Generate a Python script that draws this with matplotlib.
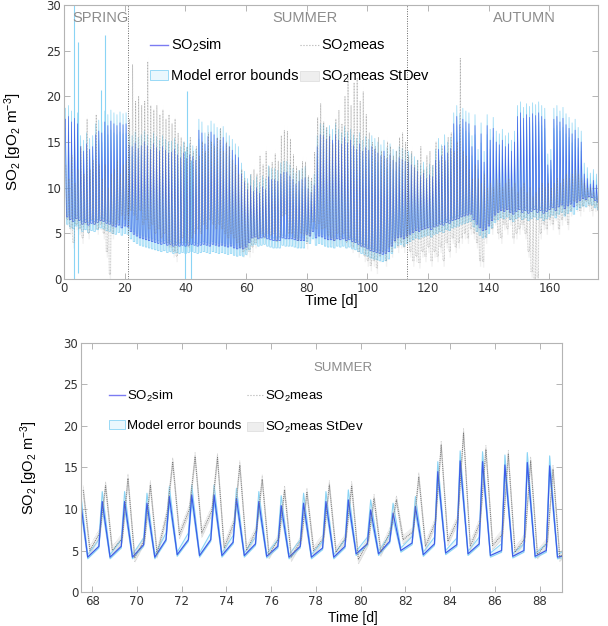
"""SO2 simulated vs measured over the season, with a zoom on days 67-89."""

import numpy as np
import matplotlib

matplotlib.use("Agg")
import matplotlib.pyplot as plt
from matplotlib.lines import Line2D
from matplotlib.patches import Patch

# ---- full season: one peak and one trough per day (days 0..175) ----
SIM_PEAK = [
    17.5, 17.8, 17.2, 17.6, 17.0, 14.5, 14.0, 14.8, 14.2, 14.5,
    15.8, 16.2, 16.0, 17.2, 16.8, 17.3, 17.0, 16.8, 17.1, 16.9,
    17.0, 14.7, 14.5, 14.9, 14.3, 14.6, 15.0, 14.6, 14.2, 14.8,
    14.4, 14.0, 14.5, 14.1, 13.8, 13.9, 14.2, 13.6, 13.3, 13.8,
    13.2, 13.6, 13.4, 13.0, 16.3, 16.0, 14.8, 15.6, 16.1, 15.8,
    15.4, 15.2, 15.5, 14.8, 14.5, 14.1, 13.6, 13.3, 11.5, 10.6,
    9.8, 10.2, 9.6, 10.0, 9.4, 10.1, 9.8, 11.2, 10.9, 10.9,
    10.7, 11.5, 11.7, 11.7, 11.3, 10.9, 10.4, 10.7, 10.9, 11.1,
    9.9, 9.5, 10.3, 14.5, 15.8, 15.7, 15.3, 15.6, 15.2, 15.8,
    15.2, 14.8, 15.5, 14.9, 15.2, 14.6, 14.2, 14.8, 14.0, 14.4,
    14.1, 14.5, 14.2, 13.8, 13.5, 14.0, 13.2, 13.6, 13.0, 12.8,
    13.3, 13.1, 12.9, 12.8, 12.5, 12.2, 11.8, 11.3, 11.6, 11.0,
    11.4, 11.2, 13.0, 14.2, 13.5, 14.6, 13.8, 14.3, 17.0, 17.8,
    16.9, 17.5, 17.2, 17.0, 14.5, 16.8, 13.0, 15.9, 12.8, 16.8,
    15.2, 16.5, 15.0, 14.7, 15.2, 14.5, 14.8, 14.0, 15.0, 17.8,
    18.2, 17.6, 18.0, 17.7, 18.1, 17.9, 18.2, 17.8, 17.5, 12.5,
    13.0, 17.5, 17.8, 17.2, 17.6, 16.9, 16.5, 15.9, 16.3, 15.4,
    15.0, 11.5, 11.0, 10.4, 10.8, 10.3,
]
SIM_LOW = [
    6.8, 6.5, 6.3, 6.6, 6.4, 6.0, 6.2, 5.9, 6.1, 6.0,
    6.2, 6.4, 6.3, 6.1, 6.0, 5.8, 5.7, 5.9, 5.6, 5.8,
    5.7, 5.2, 4.9, 4.7, 4.5, 4.4, 4.3, 4.2, 4.1, 4.0,
    3.9, 3.8, 3.9, 3.7, 3.8, 3.6, 3.7, 3.6, 3.7, 3.6,
    3.7, 3.8, 3.7, 3.6, 3.7, 3.8, 3.7, 3.6, 3.8, 3.7,
    3.6, 3.7, 3.6, 3.5, 3.6, 3.4, 3.3, 3.4, 3.3, 3.5,
    4.0, 4.5, 4.6, 4.4, 4.5, 4.6, 4.4, 4.3, 4.2, 4.2,
    4.2, 4.5, 4.4, 4.4, 4.4, 4.3, 4.2, 4.2, 4.2, 4.9,
    4.7, 5.2, 4.5, 4.7, 4.6, 4.4, 4.3, 4.3, 4.2, 4.4,
    4.3, 4.4, 4.2, 4.3, 4.1, 4.0, 3.8, 3.6, 3.5, 3.3,
    3.1, 3.0, 2.9, 2.8, 2.7, 2.8, 3.0, 3.6, 4.2, 4.5,
    4.6, 4.4, 4.7, 4.9, 5.1, 5.3, 5.2, 5.4, 5.5, 5.6,
    5.4, 5.7, 5.8, 6.0, 5.9, 6.2, 6.1, 6.4, 6.5, 6.6,
    6.8, 6.9, 7.0, 7.1, 6.5, 6.0, 5.6, 5.3, 5.4, 5.8,
    6.4, 7.0, 7.3, 7.5, 7.4, 7.6, 7.3, 7.1, 7.4, 7.6,
    7.3, 7.5, 7.2, 7.4, 7.6, 7.3, 7.5, 7.2, 7.4, 7.6,
    7.8, 7.5, 7.9, 8.1, 7.7, 8.0, 8.2, 7.9, 8.4, 8.6,
    8.8, 8.7, 9.0, 8.9, 8.6, 8.4,
]
MEAS_PEAK = [
    12.5, 11.0, 13.5, 10.5, 12.0, 14.5, 11.5, 17.5, 12.0, 13.0,
    18.0, 12.5, 11.0, 12.5, 10.0, 11.5, 12.0, 13.0, 11.5, 12.5,
    13.0, 17.5, 23.5, 19.5, 20.0, 19.0, 19.5, 23.8, 19.0, 18.5,
    19.0, 18.0, 18.5, 17.5, 18.0, 17.0, 17.5, 16.0, 15.5, 15.0,
    14.5, 15.5, 14.0, 14.5, 13.5, 15.0, 14.0, 16.0, 15.0, 14.5,
    15.5, 16.5, 14.0, 15.0, 14.5, 13.0, 12.5, 11.5, 12.0, 11.0,
    10.5, 11.5, 12.0, 11.5, 13.5, 12.5, 14.0, 12.3, 12.8, 13.7,
    12.9, 15.7, 16.3, 16.2, 15.3, 13.6, 12.3, 11.9, 12.9, 12.8,
    11.3, 11.1, 13.9, 17.7, 19.2, 17.2, 16.6, 15.8, 14.8, 17.5,
    18.5, 17.0, 20.0, 22.5, 19.0, 21.5, 22.0, 19.5, 20.5, 18.0,
    16.0, 15.0, 14.5, 15.5, 14.0, 13.5, 15.0, 14.5, 13.5, 14.0,
    15.5, 16.0, 15.0, 13.5, 14.0, 12.5, 13.0, 14.5, 12.0, 13.5,
    14.0, 12.5, 15.0, 13.0, 14.5, 13.0, 15.5, 16.0, 14.0, 15.0,
    24.2, 14.0, 13.5, 12.0, 11.0, 12.5, 11.0, 10.5, 11.5, 10.0,
    10.5, 10.0, 11.0, 10.5, 10.0, 10.5, 11.0, 10.0, 10.5, 9.5,
    10.0, 10.5, 9.5, 10.0, 9.0, 9.5, 10.0, 10.5, 10.0, 10.5,
    10.0, 10.5, 11.0, 10.5, 11.0, 11.5, 11.0, 11.5, 12.0, 11.5,
    11.0, 10.5, 10.0, 10.0, 9.5, 9.0,
]
MEAS_LOW = [
    6.5, 5.5, 4.0, 6.0, 5.5, 4.5, 6.0, 5.0, 6.5, 6.0,
    5.5, 6.0, 5.0, 3.0, 0.5, 5.0, 6.0, 6.5, 7.0, 6.5,
    7.0, 7.5, 7.0, 6.5, 7.5, 6.0, 6.5, 5.5, 6.0, 5.0,
    5.5, 4.5, 5.0, 4.0, 3.5, 3.0, 2.5, 4.0, 4.5, 4.0,
    3.5, 4.5, 5.0, 5.5, 5.0, 6.0, 5.5, 6.5, 6.0, 5.5,
    6.0, 5.5, 5.0, 4.5, 5.0, 4.5, 4.0, 3.5, 3.0, 3.2,
    3.0, 3.5, 4.0, 4.5, 5.0, 4.5, 5.0, 4.8, 5.0, 4.1,
    4.6, 6.9, 7.1, 5.0, 5.0, 4.5, 4.2, 5.0, 4.8, 3.9,
    4.8, 6.3, 5.5, 6.1, 5.5, 5.6, 4.8, 4.5, 4.2, 5.0,
    4.5, 5.0, 4.0, 4.5, 3.5, 4.0, 3.0, 3.5, 2.5, 2.0,
    1.5, 2.0, 1.2, 2.5, 3.0, 2.0, 3.5, 3.0, 4.0, 3.5,
    4.0, 3.5, 4.5, 3.0, 2.0, 2.5, 1.8, 3.0, 2.5, 3.5,
    2.0, 3.0, 2.5, 3.5, 2.0, 4.0, 3.0, 4.5, 3.5, 4.0,
    4.5, 5.0, 4.5, 5.5, 5.0, 4.0, 2.0, 1.9, 4.5, 6.0,
    5.5, 6.5, 5.0, 4.5, 6.0, 5.5, 6.5, 4.5, 5.0, 5.5,
    6.0, 5.0, 3.0, 0.8, 0.0, 0.2, 5.0, 6.0, 5.5, 6.5,
    6.0, 7.0, 5.5, 6.5, 7.0, 6.0, 7.5, 8.5, 8.0, 7.5,
    8.0, 8.5, 8.0, 7.5, 8.0, 7.5,
]
# model error around the simulation (at peak, at trough) and measurement stdev
BOUND_UP = [1.2, 0.3]
BOUND_DN = [1.0, 0.8]
MEAS_SD = 0.6
# isolated excursions of the error bounds
SPIKE_DAY = [3.3, 4.6, 12.2, 13.5, 40.0, 40.4, 42.0]
SPIKE_LO = [0.0, 0.7, 8.0, 7.0, 0.0, 5.0, 0.0]
SPIKE_HI = [30.0, 26.0, 20.7, 26.7, 14.0, 20.6, 13.0]

SEASONS = ["SPRING", "SUMMER", "AUTUMN"]
SEASON_X = [11.9, 79.3, 151.8]
SEASON_BREAKS = [21.1, 112.9]

# ---- zoom window: days 67..88, peak / trough / pre-rise value per day ----
ZOOM_DAYS = list(range(67, 89))
Z_SIM_PEAK = [11.6, 10.9, 10.9, 10.7, 11.5, 11.7, 11.7, 11.3, 10.9, 10.4, 10.7,
              10.9, 11.1, 9.9, 9.5, 10.3, 14.5, 15.8, 15.7, 15.3, 15.6, 15.2]
Z_SIM_LOW = [4.2, 4.2, 4.2, 4.2, 4.5, 4.4, 4.4, 4.4, 4.3, 4.2, 4.2,
             4.2, 4.6, 4.6, 5.0, 4.5, 4.7, 4.6, 4.4, 4.3, 4.3, 4.2]
Z_SIM_EVE = [5.5, 5.5, 5.7, 6.3, 6.3, 6.3, 6.0, 5.8, 5.5, 5.5, 5.3,
             5.5, 5.8, 6.1, 5.9, 5.8, 5.7, 5.8, 5.0, 5.0, 5.0, 4.5]
Z_MEAS_PEAK = [12.3, 12.8, 13.7, 12.9, 15.7, 16.3, 16.2, 15.3, 13.6, 12.3, 12.0,
               12.9, 12.8, 11.3, 11.1, 13.9, 17.7, 19.2, 17.2, 16.6, 15.8, 14.8]
Z_MEAS_LOW = [5.0, 5.0, 4.1, 4.6, 6.9, 7.1, 5.3, 5.0, 4.5, 4.2, 5.0,
              4.8, 3.9, 4.8, 6.3, 5.5, 6.1, 5.5, 5.6, 4.8, 4.5, 4.2]
Z_MEAS_EVE = [7.2, 6.5, 6.4, 9.5, 10.0, 9.8, 8.5, 7.5, 6.5, 6.3, 6.5,
              6.6, 6.2, 7.5, 7.3, 8.5, 8.8, 8.5, 7.0, 6.5, 6.0, 5.5]
Z_BOUND_UP = [1.2, 0.3, 0.8]
Z_BOUND_DN = [0.8, 0.2, 0.2]
Z_MEAS_SD = 0.5

SIM_COLOR = "#3d5ce8"
BOUND_COLOR = "#8ad4f5"
BOUND_FILL = "#eaf7fd"
MEAS_COLOR = "#7a7a7a"
SD_FILL = "#e4e4e4"
SEASON_COLOR = "#8c8c8c"
YLABEL = "SO$_2$ [gO$_2$ m$^{-3}$]"

plt.rcParams["font.family"] = ["Liberation Sans", "DejaVu Sans"]
plt.rcParams["mathtext.fontset"] = "custom"
plt.rcParams["mathtext.rm"] = "Liberation Sans"
plt.rcParams["mathtext.it"] = "Liberation Sans:italic"
plt.rcParams["mathtext.default"] = "regular"


def interleave(*cols):
    return np.column_stack(cols).ravel()


def style_axes(ax):
    for spine in ax.spines.values():
        spine.set_color("#b4b4b4")
        spine.set_linewidth(0.8)
    ax.tick_params(direction="in", top=True, right=True, length=4, width=0.6,
                   color="#a8a8a8", labelsize=8.5, pad=2, labelcolor="#333333")
    for label in ax.get_xticklabels() + ax.get_yticklabels():
        label.set_family(["Liberation Sans Narrow", "DejaVu Sans"])


def legend_handles():
    return [
        Line2D([], [], color="#7b7bf2", lw=1.0),
        Patch(facecolor=BOUND_FILL, edgecolor=BOUND_COLOR, lw=0.6),
        Line2D([], [], color="#b0b0b0", lw=0.8, ls=":"),
        Patch(facecolor="#eeeeee", edgecolor="#e0e0e0", lw=0.6),
    ]


LABELS = ["SO$_2$sim", "Model error bounds", "SO$_2$meas", "SO$_2$meas StDev"]

fig = plt.figure(figsize=(6.08, 6.26), dpi=100)
ax1 = fig.add_axes([0.1053, 0.5543, 0.8783, 0.4377])
ax2 = fig.add_axes([0.1332, 0.0543, 0.7911, 0.3978])

# ---------------- top panel: whole season ----------------
# each day: morning peak, fast decay to the trough, trough held until the next rise
days = np.arange(len(SIM_PEAK))
sim_peak = np.array(SIM_PEAK)
sim_low = np.array(SIM_LOW)
t_sim = interleave(days + 0.45, days + 0.8, days + 1.3)
sim = interleave(sim_peak, sim_low, sim_low)
ub = interleave(sim_peak + BOUND_UP[0], sim_low + BOUND_UP[1], sim_low + BOUND_UP[1])
lb = interleave(sim_peak - BOUND_DN[0], sim_low - BOUND_DN[1], sim_low - BOUND_DN[1])
meas_peak = np.array(MEAS_PEAK)
meas_low = np.array(MEAS_LOW)
t_meas = interleave(days + 0.6, days + 0.9, days + 1.35)
meas = interleave(meas_peak, meas_low, meas_low)

ax1.fill_between(t_sim, lb, ub, color=BOUND_FILL, lw=0)
ax1.fill_between(t_meas, meas - MEAS_SD, meas + MEAS_SD, color=SD_FILL, lw=0, alpha=0.5)
ax1.plot(t_sim, ub, color=BOUND_COLOR, lw=0.5)
ax1.plot(t_sim, lb, color=BOUND_COLOR, lw=0.5)
ax1.vlines(SPIKE_DAY, SPIKE_LO, SPIKE_HI, color=BOUND_COLOR, lw=0.8)
ax1.plot(t_sim, sim, color=SIM_COLOR, lw=0.5, alpha=0.9)
ax1.plot(t_meas, meas, color=MEAS_COLOR, lw=0.55, ls=(0, (1, 1)), alpha=0.6)
for x in SEASON_BREAKS:
    ax1.axvline(x, color="#666666", lw=0.7, ls=(0, (1, 1.5)))
for name, x in zip(SEASONS, SEASON_X):
    ax1.text(x, 28.6, name, color=SEASON_COLOR, fontsize=10.5, ha="center", va="center")

ax1.set_xlim(0, 176)
ax1.set_ylim(0, 30)
ax1.set_xticks(range(0, 161, 20))
ax1.set_yticks(range(0, 31, 5))
style_axes(ax1)
ax1.set_xlabel("Time [d]", fontsize=10.5)
ax1.set_ylabel(YLABEL, fontsize=11)
ax1.xaxis.set_label_coords(0.5, -0.055)
ax1.yaxis.set_label_coords(-0.075, 0.5)
ax1.legend(legend_handles(), LABELS, ncol=2, frameon=False, fontsize=10.5,
           loc="upper left", bbox_to_anchor=(0.247, 0.941), bbox_transform=fig.transFigure,
           borderpad=0, borderaxespad=0, handlelength=1.25, handletextpad=0.15,
           columnspacing=0.15, labelspacing=1.0)

# ---------------- bottom panel: zoom on summer days ----------------
zd = np.array(ZOOM_DAYS)
z_peak = np.array(Z_SIM_PEAK)
z_low = np.array(Z_SIM_LOW)
z_eve = np.array(Z_SIM_EVE)
tz_sim = interleave(zd + 0.45, zd + 0.8, zd + 1.3)
z_sim = interleave(z_peak, z_low, z_eve)
z_ub = interleave(z_peak + Z_BOUND_UP[0], z_low + Z_BOUND_UP[1], z_eve + Z_BOUND_UP[2])
z_lb = interleave(z_peak - Z_BOUND_DN[0], z_low - Z_BOUND_DN[1], z_eve - Z_BOUND_DN[2])
tz_meas = interleave(zd + 0.6, zd + 0.9, zd + 1.35)
z_meas = interleave(np.array(Z_MEAS_PEAK), np.array(Z_MEAS_LOW), np.array(Z_MEAS_EVE))

ax2.fill_between(tz_sim, z_lb, z_ub, color=BOUND_FILL, lw=0)
ax2.fill_between(tz_meas, z_meas - Z_MEAS_SD, z_meas + Z_MEAS_SD, color=SD_FILL, lw=0, alpha=0.7)
ax2.plot(tz_sim, z_ub, color=BOUND_COLOR, lw=0.8)
ax2.plot(tz_sim, z_lb, color=BOUND_COLOR, lw=0.8)
ax2.plot(tz_meas, z_meas + Z_MEAS_SD, color="#c8c8c8", lw=0.5, ls=(0, (1, 1)))
ax2.plot(tz_meas, z_meas - Z_MEAS_SD, color="#c8c8c8", lw=0.5, ls=(0, (1, 1)))
ax2.plot(tz_sim, z_sim, color=SIM_COLOR, lw=0.9)
ax2.plot(tz_meas, z_meas, color=MEAS_COLOR, lw=0.7, ls=(0, (1, 1)))
ax2.text(79.2, 27.0, "SUMMER", color=SEASON_COLOR, fontsize=9.5, ha="center", va="center")

ax2.set_xlim(67.5, 89.0)
ax2.set_ylim(0, 30)
ax2.set_xticks(range(68, 89, 2))
ax2.set_yticks(range(0, 31, 5))
style_axes(ax2)
ax2.set_xlabel("Time [d]", fontsize=10)
ax2.set_ylabel(YLABEL, fontsize=10.5)
ax2.xaxis.set_label_coords(0.565, -0.075)
ax2.yaxis.set_label_coords(-0.085, 0.5)
ax2.legend(legend_handles(), LABELS, ncol=2, frameon=False, fontsize=9.5,
           loc="upper left", bbox_to_anchor=(0.179, 0.3786), bbox_transform=fig.transFigure,
           borderpad=0, borderaxespad=0, handlelength=1.25, handletextpad=0.15,
           columnspacing=0.4, labelspacing=1.2)

fig.savefig("out.png", dpi=100)
plt.close(fig)
